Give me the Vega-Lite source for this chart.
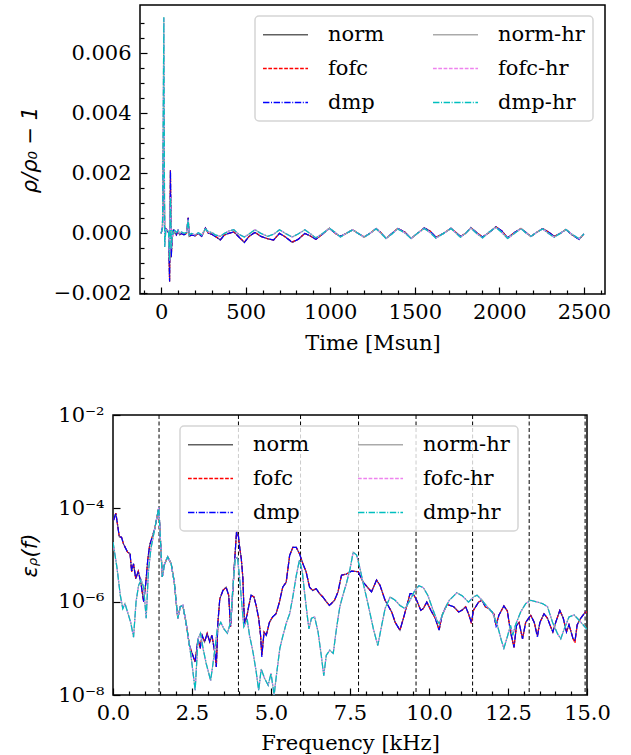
{
  "$schema": "https://vega.github.io/schema/vega-lite/v6.json",
  "padding": {"left": 18, "top": 4, "right": 5, "bottom": 0},
  "spacing": 49,
  "config": {
    "font": "DejaVu Serif",
    "view": {"stroke": "black", "strokeWidth": 1.5},
    "axis": {"domain": false, "grid": false, "labelFont": "DejaVu Serif", "labelFontSize": 21, "labelColor": "black", "titleFont": "DejaVu Serif", "titleFontSize": 21, "titleFontWeight": "normal", "titleColor": "black", "tickColor": "black", "tickWidth": 1.2, "labelOverlap": false, "labelFlush": false},
    "legend": {"strokeWidth": 1.5}
  },
  "resolve": {"scale": {"color": "independent", "strokeDash": "independent", "x": "independent", "y": "independent"}, "legend": {"color": "independent", "strokeDash": "independent"}},
  "vconcat": [
    {
      "bounds": "flush",
      "spacing": 26,
      "resolve": {"scale": {"color": "independent", "strokeDash": "independent", "x": "independent", "y": "independent"}, "legend": {"color": "independent", "strokeDash": "independent"}},
      "hconcat": [
        {
          "width": 1,
          "height": 1,
          "view": {"stroke": null},
          "data": {"values": []},
          "mark": {"type": "point", "opacity": 0}
        },
        {
          "width": 465,
          "height": 289,
          "data": {"values": [
            {"t":0,"norm":0,"fofc":0,"dmp":0,"norm-hr":0,"fofc-hr":0,"dmp-hr":0},
            {"t":8,"norm":0.0002,"fofc":0.0002,"dmp":0.0002,"norm-hr":0.00015,"fofc-hr":0.00015,"dmp-hr":0.00015},
            {"t":16,"norm":0.004,"fofc":0.004,"dmp":0.004,"norm-hr":0.0072,"fofc-hr":0.0072,"dmp-hr":0.0072},
            {"t":21,"norm":-0.0002,"fofc":-0.0002,"dmp":-0.0002,"norm-hr":-0.00045,"fofc-hr":-0.00045,"dmp-hr":-0.00045},
            {"t":28,"norm":0.00015,"fofc":0.00015,"dmp":0.00015,"norm-hr":0.00012,"fofc-hr":0.00012,"dmp-hr":0.00012},
            {"t":36,"norm":0.0001,"fofc":0.0001,"dmp":0.0001,"norm-hr":0.0001,"fofc-hr":0.0001,"dmp-hr":0.0001},
            {"t":44,"norm":0.00002,"fofc":0.00002,"dmp":0.00002,"norm-hr":0.00008,"fofc-hr":0.00008,"dmp-hr":0.00008},
            {"t":50,"norm":-0.0016,"fofc":-0.0016,"dmp":-0.0016,"norm-hr":-0.0009,"fofc-hr":-0.0009,"dmp-hr":-0.0009},
            {"t":55,"norm":0.0021,"fofc":0.0021,"dmp":0.0021,"norm-hr":0.0012,"fofc-hr":0.0012,"dmp-hr":0.0012},
            {"t":60,"norm":-0.0008,"fofc":-0.0008,"dmp":-0.0008,"norm-hr":-0.0005,"fofc-hr":-0.0005,"dmp-hr":-0.0005},
            {"t":66,"norm":0,"fofc":0,"dmp":0,"norm-hr":0.0001,"fofc-hr":0.0001,"dmp-hr":0.0001},
            {"t":72,"norm":0.0001,"fofc":0.0001,"dmp":0.0001,"norm-hr":-0.00005,"fofc-hr":-0.00005,"dmp-hr":-0.00005},
            {"t":80,"norm":0.00003,"fofc":0.00003,"dmp":0.00003,"norm-hr":0.0001,"fofc-hr":0.0001,"dmp-hr":0.0001},
            {"t":90,"norm":-0.00005,"fofc":-0.00005,"dmp":-0.00005,"norm-hr":0.00003,"fofc-hr":0.00003,"dmp-hr":0.00003},
            {"t":100,"norm":0.0001,"fofc":0.0001,"dmp":0.0001,"norm-hr":0.00008,"fofc-hr":0.00008,"dmp-hr":0.00008},
            {"t":110,"norm":-0.00005,"fofc":-0.00005,"dmp":-0.00005,"norm-hr":0,"fofc-hr":0,"dmp-hr":0},
            {"t":120,"norm":0,"fofc":0,"dmp":0,"norm-hr":0.00005,"fofc-hr":0.00005,"dmp-hr":0.00005},
            {"t":135,"norm":-0.00005,"fofc":-0.00005,"dmp":-0.00005,"norm-hr":0,"fofc-hr":0,"dmp-hr":0},
            {"t":150,"norm":0,"fofc":0,"dmp":0,"norm-hr":0.00003,"fofc-hr":0.00003,"dmp-hr":0.00003},
            {"t":160,"norm":0.00052,"fofc":0.00052,"dmp":0.00052,"norm-hr":0.00045,"fofc-hr":0.00045,"dmp-hr":0.00045},
            {"t":166,"norm":-0.0001,"fofc":-0.0001,"dmp":-0.0001,"norm-hr":-0.00005,"fofc-hr":-0.00005,"dmp-hr":-0.00005},
            {"t":180,"norm":-0.00005,"fofc":-0.00005,"dmp":-0.00005,"norm-hr":0,"fofc-hr":0,"dmp-hr":0},
            {"t":200,"norm":-0.00008,"fofc":-0.00008,"dmp":-0.00008,"norm-hr":-0.00005,"fofc-hr":-0.00005,"dmp-hr":-0.00005},
            {"t":220,"norm":0,"fofc":0,"dmp":0,"norm-hr":0.00002,"fofc-hr":0.00002,"dmp-hr":0.00002},
            {"t":240,"norm":-0.0001,"fofc":-0.0001,"dmp":-0.0001,"norm-hr":-0.00005,"fofc-hr":-0.00005,"dmp-hr":-0.00005},
            {"t":262,"norm":0.00018,"fofc":0.00018,"dmp":0.00018,"norm-hr":0.00015,"fofc-hr":0.00015,"dmp-hr":0.00015},
            {"t":280,"norm":0,"fofc":0,"dmp":0,"norm-hr":0.00005,"fofc-hr":0.00005,"dmp-hr":0.00005},
            {"t":300,"norm":-0.00003,"fofc":-0.00003,"dmp":-0.00003,"norm-hr":0.00003,"fofc-hr":0.00003,"dmp-hr":0.00003},
            {"t":320,"norm":-0.0001,"fofc":-0.0001,"dmp":-0.0001,"norm-hr":-0.00005,"fofc-hr":-0.00005,"dmp-hr":-0.00005},
            {"t":350,"norm":-0.00022,"fofc":-0.00021,"dmp":-0.00022,"norm-hr":-0.0001,"fofc-hr":-0.0001,"dmp-hr":-0.0001},
            {"t":375,"norm":-0.00005,"fofc":-0.00005,"dmp":-0.00005,"norm-hr":0,"fofc-hr":0,"dmp-hr":0},
            {"t":400,"norm":0,"fofc":0,"dmp":0,"norm-hr":0.00008,"fofc-hr":0.00008,"dmp-hr":0.00008},
            {"t":430,"norm":0.00005,"fofc":0.00005,"dmp":0.00005,"norm-hr":0.00012,"fofc-hr":0.00012,"dmp-hr":0.00012},
            {"t":460,"norm":-0.00012,"fofc":-0.00012,"dmp":-0.00012,"norm-hr":-0.00003,"fofc-hr":-0.00003,"dmp-hr":-0.00003},
            {"t":492,"norm":-0.0003,"fofc":-0.00029,"dmp":-0.00031,"norm-hr":-0.00012,"fofc-hr":-0.00012,"dmp-hr":-0.00012},
            {"t":520,"norm":-0.0001,"fofc":-0.0001,"dmp":-0.0001,"norm-hr":-0.00002,"fofc-hr":-0.00002,"dmp-hr":-0.00002},
            {"t":555,"norm":0.00003,"fofc":0.00003,"dmp":0.00003,"norm-hr":0.00012,"fofc-hr":0.00012,"dmp-hr":0.00012},
            {"t":590,"norm":-0.0001,"fofc":-0.0001,"dmp":-0.0001,"norm-hr":0,"fofc-hr":0,"dmp-hr":0},
            {"t":630,"norm":-0.00018,"fofc":-0.00018,"dmp":-0.00018,"norm-hr":-0.0001,"fofc-hr":-0.0001,"dmp-hr":-0.0001},
            {"t":665,"norm":-0.00022,"fofc":-0.00022,"dmp":-0.00022,"norm-hr":-0.00003,"fofc-hr":-0.00003,"dmp-hr":-0.00003},
            {"t":700,"norm":0,"fofc":0,"dmp":0,"norm-hr":0.00012,"fofc-hr":0.00012,"dmp-hr":0.00012},
            {"t":735,"norm":-0.00012,"fofc":-0.00012,"dmp":-0.00012,"norm-hr":0,"fofc-hr":0,"dmp-hr":0},
            {"t":775,"norm":-0.0003,"fofc":-0.00028,"dmp":-0.0003,"norm-hr":-0.00012,"fofc-hr":-0.00012,"dmp-hr":-0.00012},
            {"t":810,"norm":-0.0002,"fofc":-0.0002,"dmp":-0.0002,"norm-hr":-0.00002,"fofc-hr":-0.00002,"dmp-hr":-0.00002},
            {"t":850,"norm":0,"fofc":0,"dmp":0,"norm-hr":0.00012,"fofc-hr":0.00012,"dmp-hr":0.00012},
            {"t":880,"norm":-0.00008,"fofc":-0.00008,"dmp":-0.00008,"norm-hr":0,"fofc-hr":0,"dmp-hr":0},
            {"t":915,"norm":-0.0002,"fofc":-0.0002,"dmp":-0.0002,"norm-hr":-0.00015,"fofc-hr":-0.00015,"dmp-hr":-0.00015},
            {"t":955,"norm":-0.00002,"fofc":-0.00002,"dmp":-0.00002,"norm-hr":0,"fofc-hr":0,"dmp-hr":0},
            {"t":995,"norm":0.00017,"fofc":0.00017,"dmp":0.00017,"norm-hr":0.00017,"fofc-hr":0.00017,"dmp-hr":0.00017},
            {"t":1030,"norm":0,"fofc":0,"dmp":0,"norm-hr":0.00003,"fofc-hr":0.00003,"dmp-hr":0.00003},
            {"t":1060,"norm":-0.0001,"fofc":-0.0001,"dmp":-0.0001,"norm-hr":-0.00012,"fofc-hr":-0.00012,"dmp-hr":-0.00012},
            {"t":1095,"norm":0,"fofc":0,"dmp":0,"norm-hr":0,"fofc-hr":0,"dmp-hr":0},
            {"t":1133,"norm":0.00012,"fofc":0.00012,"dmp":0.00012,"norm-hr":0.00012,"fofc-hr":0.00012,"dmp-hr":0.00012},
            {"t":1165,"norm":0,"fofc":0,"dmp":0,"norm-hr":0,"fofc-hr":0,"dmp-hr":0},
            {"t":1200,"norm":-0.00012,"fofc":-0.00012,"dmp":-0.00012,"norm-hr":-0.00013,"fofc-hr":-0.00013,"dmp-hr":-0.00013},
            {"t":1235,"norm":0,"fofc":0,"dmp":0,"norm-hr":0,"fofc-hr":0,"dmp-hr":0},
            {"t":1271,"norm":0.00016,"fofc":0.00016,"dmp":0.00016,"norm-hr":0.00015,"fofc-hr":0.00015,"dmp-hr":0.00015},
            {"t":1300,"norm":0.00002,"fofc":0.00002,"dmp":0.00002,"norm-hr":0,"fofc-hr":0,"dmp-hr":0},
            {"t":1330,"norm":-0.00017,"fofc":-0.00017,"dmp":-0.00017,"norm-hr":-0.00017,"fofc-hr":-0.00017,"dmp-hr":-0.00017},
            {"t":1365,"norm":0,"fofc":0,"dmp":0,"norm-hr":-0.00002,"fofc-hr":-0.00002,"dmp-hr":-0.00002},
            {"t":1399,"norm":0.00016,"fofc":0.00016,"dmp":0.00016,"norm-hr":0.00015,"fofc-hr":0.00015,"dmp-hr":0.00015},
            {"t":1440,"norm":0.00005,"fofc":0.00005,"dmp":0.00005,"norm-hr":0.00002,"fofc-hr":0.00002,"dmp-hr":0.00002},
            {"t":1478,"norm":-0.00017,"fofc":-0.00017,"dmp":-0.00017,"norm-hr":-0.00017,"fofc-hr":-0.00017,"dmp-hr":-0.00017},
            {"t":1515,"norm":0,"fofc":0,"dmp":0,"norm-hr":0,"fofc-hr":0,"dmp-hr":0},
            {"t":1556,"norm":0.00018,"fofc":0.00018,"dmp":0.00018,"norm-hr":0.00016,"fofc-hr":0.00016,"dmp-hr":0.00016},
            {"t":1590,"norm":0.00008,"fofc":0.00008,"dmp":0.00008,"norm-hr":0.00003,"fofc-hr":0.00003,"dmp-hr":0.00003},
            {"t":1625,"norm":-0.00013,"fofc":-0.00013,"dmp":-0.00013,"norm-hr":-0.00016,"fofc-hr":-0.00016,"dmp-hr":-0.00016},
            {"t":1670,"norm":0,"fofc":0,"dmp":0,"norm-hr":0,"fofc-hr":0,"dmp-hr":0},
            {"t":1714,"norm":0.00017,"fofc":0.00017,"dmp":0.00017,"norm-hr":0.00016,"fofc-hr":0.00016,"dmp-hr":0.00016},
            {"t":1740,"norm":0.00005,"fofc":0.00005,"dmp":0.00005,"norm-hr":0.00003,"fofc-hr":0.00003,"dmp-hr":0.00003},
            {"t":1770,"norm":-0.0001,"fofc":-0.0001,"dmp":-0.0001,"norm-hr":-0.00013,"fofc-hr":-0.00013,"dmp-hr":-0.00013},
            {"t":1800,"norm":0,"fofc":0,"dmp":0,"norm-hr":0,"fofc-hr":0,"dmp-hr":0},
            {"t":1832,"norm":0.00019,"fofc":0.00019,"dmp":0.00019,"norm-hr":0.00018,"fofc-hr":0.00018,"dmp-hr":0.00018},
            {"t":1865,"norm":0.00003,"fofc":0.00003,"dmp":0.00003,"norm-hr":0,"fofc-hr":0,"dmp-hr":0},
            {"t":1901,"norm":-0.00012,"fofc":-0.00012,"dmp":-0.00012,"norm-hr":-0.00015,"fofc-hr":-0.00015,"dmp-hr":-0.00015},
            {"t":1940,"norm":0.00003,"fofc":0.00003,"dmp":0.00003,"norm-hr":0.00005,"fofc-hr":0.00005,"dmp-hr":0.00005},
            {"t":1980,"norm":0.00022,"fofc":0.00022,"dmp":0.00022,"norm-hr":0.0002,"fofc-hr":0.0002,"dmp-hr":0.0002},
            {"t":2015,"norm":0.00008,"fofc":0.00008,"dmp":0.00008,"norm-hr":0.00003,"fofc-hr":0.00003,"dmp-hr":0.00003},
            {"t":2049,"norm":-0.00015,"fofc":-0.00015,"dmp":-0.00015,"norm-hr":-0.00017,"fofc-hr":-0.00017,"dmp-hr":-0.00017},
            {"t":2090,"norm":0.00003,"fofc":0.00003,"dmp":0.00003,"norm-hr":0,"fofc-hr":0,"dmp-hr":0},
            {"t":2128,"norm":0.00016,"fofc":0.00016,"dmp":0.00016,"norm-hr":0.00016,"fofc-hr":0.00016,"dmp-hr":0.00016},
            {"t":2160,"norm":0.00002,"fofc":0.00002,"dmp":0.00002,"norm-hr":0,"fofc-hr":0,"dmp-hr":0},
            {"t":2187,"norm":-0.0001,"fofc":-0.0001,"dmp":-0.0001,"norm-hr":-0.0001,"fofc-hr":-0.0001,"dmp-hr":-0.0001},
            {"t":2220,"norm":0.00003,"fofc":0.00003,"dmp":0.00003,"norm-hr":0.00003,"fofc-hr":0.00003,"dmp-hr":0.00003},
            {"t":2256,"norm":0.00016,"fofc":0.00016,"dmp":0.00016,"norm-hr":0.00015,"fofc-hr":0.00015,"dmp-hr":0.00015},
            {"t":2290,"norm":0.00005,"fofc":0.00005,"dmp":0.00005,"norm-hr":0,"fofc-hr":0,"dmp-hr":0},
            {"t":2325,"norm":-0.0001,"fofc":-0.0001,"dmp":-0.0001,"norm-hr":-0.00013,"fofc-hr":-0.00013,"dmp-hr":-0.00013},
            {"t":2360,"norm":0,"fofc":0,"dmp":0,"norm-hr":0,"fofc-hr":0,"dmp-hr":0},
            {"t":2394,"norm":0.00013,"fofc":0.00013,"dmp":0.00013,"norm-hr":0.00013,"fofc-hr":0.00013,"dmp-hr":0.00013},
            {"t":2430,"norm":-0.00005,"fofc":-0.00005,"dmp":-0.00005,"norm-hr":-0.00003,"fofc-hr":-0.00003,"dmp-hr":-0.00003},
            {"t":2472,"norm":-0.0002,"fofc":-0.00019,"dmp":-0.0002,"norm-hr":-0.00018,"fofc-hr":-0.00018,"dmp-hr":-0.00018},
            {"t":2500,"norm":-0.00002,"fofc":-0.00002,"dmp":-0.00002,"norm-hr":-0.00002,"fofc-hr":-0.00002,"dmp-hr":-0.00002}
          ]},
          "transform": [{"fold": ["norm", "fofc", "dmp", "norm-hr", "fofc-hr", "dmp-hr"], "as": ["series", "v"]}],
          "mark": {"type": "line", "strokeWidth": 1.2, "clip": true},
          "encoding": {
            "x": {"field": "t", "type": "quantitative", "scale": {"domain": [-125, 2625], "nice": false, "zero": false},
              "axis": {"title": "Time [Msun]", "values": [-100,0,100,200,300,400,500,600,700,800,900,1000,1100,1200,1300,1400,1500,1600,1700,1800,1900,2000,2100,2200,2300,2400,2500,2600],
                "labelExpr": "datum.value % 500 == 0 ? format(datum.value, 'd') : ''",
                "tickSize": {"condition": {"test": "datum.value % 500 == 0", "value": -7}, "value": -4},
                "labelPadding": 14.5, "minExtent": 29, "maxExtent": 29, "titlePadding": 9}},
            "y": {"field": "v", "type": "quantitative", "scale": {"domain": [-0.00202, 0.00761], "nice": false, "zero": false},
              "axis": {"title": "ρ/ρ₀ − 1", "titleFont": "DejaVu Sans", "titleFontStyle": "italic",
                "values": [-0.002,-0.0015,-0.001,-0.0005,0,0.0005,0.001,0.0015,0.002,0.0025,0.003,0.0035,0.004,0.0045,0.005,0.0055,0.006,0.0065,0.007],
                "labelExpr": "abs(round(datum.value * 10000)) % 20 == 0 ? replace(format(datum.value, '.3f'), '-', '−') : ''",
                "tickSize": {"condition": {"test": "abs(round(datum.value * 10000)) % 20 == 0", "value": -7}, "value": -4},
                "labelPadding": 16, "minExtent": 89, "maxExtent": 89, "titlePadding": 11}},
            "color": {"field": "series", "type": "nominal",
              "scale": {"domain": ["norm", "fofc", "dmp", "norm-hr", "fofc-hr", "dmp-hr"], "range": ["#606060", "#ff0000", "#0000ff", "#aaaaaa", "#ee82ee", "#00bfbf"]},
              "legend": {"title": null, "orient": "none", "legendX": 115, "legendY": 11, "columns": 2, "symbolType": "M-2.33,0H7.67", "symbolSize": 81, "symbolStrokeWidth": 1.4, "labelFont": "DejaVu Serif", "labelFontSize": 21, "labelColor": "black", "labelOffset": 44, "columnPadding": 45, "rowPadding": 12, "padding": 8, "strokeColor": "#d5d5d5", "fillColor": "rgba(255,255,255,0.8)", "cornerRadius": 4}},
            "strokeDash": {"field": "series", "type": "nominal",
              "scale": {"domain": ["norm", "fofc", "dmp", "norm-hr", "fofc-hr", "dmp-hr"], "range": [[1, 0], [3.7, 1.6], [6.4, 1.6, 1, 1.6], [1, 0], [3.7, 1.6], [6.4, 1.6, 1, 1.6]]}}
          }
        }
      ]
    },
    {
      "width": 474,
      "height": 280,
      "encoding": {
        "x": {"field": "f", "type": "quantitative", "scale": {"domain": [0, 15], "nice": false, "zero": false},
          "axis": {"title": "Frequency [kHz]", "values": [0,0.5,1,1.5,2,2.5,3,3.5,4,4.5,5,5.5,6,6.5,7,7.5,8,8.5,9,9.5,10,10.5,11,11.5,12,12.5,13,13.5,14,14.5,15],
            "labelExpr": "round(datum.value * 10) % 25 == 0 ? format(datum.value, '.1f') : ''",
            "tickSize": {"condition": {"test": "round(datum.value * 10) % 25 == 0", "value": -7}, "value": -4},
            "labelPadding": 14.7, "minExtent": 29, "maxExtent": 29, "titlePadding": 8.5}}
      },
      "layer": [
        {
          "data": {"values": [{"f": 1.457}, {"f": 3.97}, {"f": 5.935}, {"f": 7.77}, {"f": 9.59}, {"f": 11.38}, {"f": 13.17}, {"f": 14.94}]},
          "mark": {"type": "rule", "color": "black", "strokeWidth": 1, "strokeDash": [4, 2.5]}
        },
        {
          "data": {"values": [
            {"f":0.02,"norm":5.6e-5,"fofc":5.6e-5,"dmp":5.6e-5},
            {"f":0.09,"norm":7.9e-5,"fofc":7.9e-5,"dmp":7.9e-5},
            {"f":0.2,"norm":2.45e-5,"fofc":2.45e-5,"dmp":2.45e-5},
            {"f":0.27,"norm":2.4e-5,"fofc":2.4e-5,"dmp":2.4e-5},
            {"f":0.33,"norm":1.74e-5,"fofc":1.74e-5,"dmp":1.74e-5},
            {"f":0.46,"norm":1.15e-5,"fofc":1.15e-5,"dmp":1.15e-5},
            {"f":0.54,"norm":1.07e-5,"fofc":1.07e-5,"dmp":1.07e-5},
            {"f":0.59,"norm":4.4e-6,"fofc":4.4e-6,"dmp":4.4e-6},
            {"f":0.65,"norm":6.5e-6,"fofc":6.5e-6,"dmp":6.5e-6},
            {"f":0.72,"norm":3.1e-6,"fofc":3.1e-6,"dmp":3.1e-6},
            {"f":0.8,"norm":4.5e-6,"fofc":4.5e-6,"dmp":4.5e-6},
            {"f":0.88,"norm":2.6e-6,"fofc":2.6e-6,"dmp":2.6e-6},
            {"f":0.97,"norm":1.0e-6,"fofc":1.0e-6,"dmp":1.0e-6},
            {"f":1.04,"norm":2.6e-6,"fofc":2.6e-6,"dmp":2.6e-6},
            {"f":1.1,"norm":7.9e-6,"fofc":7.9e-6,"dmp":7.9e-6},
            {"f":1.16,"norm":1.62e-5,"fofc":1.62e-5,"dmp":1.62e-5},
            {"f":1.32,"norm":3.6e-5,"fofc":3.6e-5,"dmp":3.6e-5},
            {"f":1.45,"norm":1.05e-4,"fofc":1.05e-4,"dmp":1.05e-4},
            {"f":1.56,"norm":3.4e-6,"fofc":3.4e-6,"dmp":3.4e-6},
            {"f":1.63,"norm":6.3e-6,"fofc":6.3e-6,"dmp":6.3e-6},
            {"f":1.73,"norm":9.1e-6,"fofc":9.1e-6,"dmp":9.1e-6},
            {"f":1.84,"norm":6.5e-6,"fofc":6.5e-6,"dmp":6.5e-6},
            {"f":1.94,"norm":2.6e-6,"fofc":2.6e-6,"dmp":2.6e-6},
            {"f":2.05,"norm":4.4e-7,"fofc":4.4e-7,"dmp":4.4e-7},
            {"f":2.13,"norm":7.8e-7,"fofc":7.8e-7,"dmp":7.8e-7},
            {"f":2.21,"norm":8.3e-7,"fofc":8.3e-7,"dmp":8.3e-7},
            {"f":2.31,"norm":3.6e-7,"fofc":3.6e-7,"dmp":3.6e-7},
            {"f":2.42,"norm":1.15e-7,"fofc":1.15e-7,"dmp":1.15e-7},
            {"f":2.49,"norm":8.3e-8,"fofc":8.3e-8,"dmp":8.3e-8},
            {"f":2.6,"norm":5.1e-8,"fofc":5.1e-8,"dmp":5.1e-8},
            {"f":2.69,"norm":1.6e-7,"fofc":1.6e-7,"dmp":1.6e-7},
            {"f":2.76,"norm":1.0e-7,"fofc":1.0e-7,"dmp":1.0e-7},
            {"f":2.82,"norm":1.9e-7,"fofc":1.9e-7,"dmp":1.9e-7},
            {"f":2.9,"norm":1.38e-7,"fofc":1.38e-7,"dmp":1.38e-7},
            {"f":2.98,"norm":2.1e-7,"fofc":2.1e-7,"dmp":2.1e-7},
            {"f":3.06,"norm":1.38e-7,"fofc":1.38e-7,"dmp":1.38e-7},
            {"f":3.13,"norm":1.9e-7,"fofc":1.9e-7,"dmp":1.9e-7},
            {"f":3.22,"norm":8.3e-8,"fofc":8.3e-8,"dmp":8.3e-8},
            {"f":3.27,"norm":4.0e-8,"fofc":4.0e-8,"dmp":4.0e-8},
            {"f":3.32,"norm":3.6e-7,"fofc":3.6e-7,"dmp":3.6e-7},
            {"f":3.38,"norm":1.15e-6,"fofc":1.15e-6,"dmp":1.15e-6},
            {"f":3.48,"norm":1.74e-6,"fofc":1.74e-6,"dmp":1.74e-6},
            {"f":3.58,"norm":2.04e-6,"fofc":2.04e-6,"dmp":2.04e-6},
            {"f":3.66,"norm":1.38e-6,"fofc":1.38e-6,"dmp":1.38e-6},
            {"f":3.72,"norm":2.9e-7,"fofc":2.9e-7,"dmp":2.9e-7},
            {"f":3.78,"norm":1.26e-6,"fofc":1.26e-6,"dmp":1.26e-6},
            {"f":3.84,"norm":6.0e-6,"fofc":6.0e-6,"dmp":6.0e-6},
            {"f":3.91,"norm":3.2e-5,"fofc":3.2e-5,"dmp":3.2e-5},
            {"f":3.97,"norm":2.5e-5,"fofc":2.5e-5,"dmp":2.5e-5},
            {"f":4.0,"norm":1.62e-5,"fofc":1.62e-5,"dmp":1.62e-5},
            {"f":4.06,"norm":8.3e-6,"fofc":8.3e-6,"dmp":8.3e-6},
            {"f":4.11,"norm":3.2e-6,"fofc":3.2e-6,"dmp":3.2e-6},
            {"f":4.16,"norm":3.2e-7,"fofc":3.2e-7,"dmp":3.2e-7},
            {"f":4.24,"norm":5.1e-7,"fofc":5.1e-7,"dmp":5.1e-7},
            {"f":4.3,"norm":8.3e-7,"fofc":8.3e-7,"dmp":8.3e-7},
            {"f":4.37,"norm":1.38e-6,"fofc":1.38e-6,"dmp":1.38e-6},
            {"f":4.46,"norm":1.26e-6,"fofc":1.26e-6,"dmp":1.26e-6},
            {"f":4.53,"norm":8.3e-7,"fofc":8.3e-7,"dmp":8.3e-7},
            {"f":4.61,"norm":4.4e-7,"fofc":4.4e-7,"dmp":4.4e-7},
            {"f":4.67,"norm":1.9e-7,"fofc":1.9e-7,"dmp":1.9e-7},
            {"f":4.71,"norm":7.1e-8,"fofc":7.1e-8,"dmp":6.5e-8},
            {"f":4.78,"norm":2.24e-7,"fofc":2.24e-7,"dmp":2.24e-7},
            {"f":4.85,"norm":1.9e-7,"fofc":1.9e-7,"dmp":1.9e-7},
            {"f":4.95,"norm":3.6e-7,"fofc":3.6e-7,"dmp":3.6e-7},
            {"f":5.05,"norm":4.7e-7,"fofc":4.7e-7,"dmp":4.7e-7},
            {"f":5.16,"norm":5.5e-7,"fofc":5.5e-7,"dmp":5.5e-7},
            {"f":5.27,"norm":1.0e-6,"fofc":1.0e-6,"dmp":1.0e-6},
            {"f":5.37,"norm":2.04e-6,"fofc":2.04e-6,"dmp":2.04e-6},
            {"f":5.48,"norm":2.6e-6,"fofc":2.6e-6,"dmp":2.6e-6},
            {"f":5.59,"norm":9.8e-6,"fofc":9.8e-6,"dmp":9.8e-6},
            {"f":5.69,"norm":1.45e-5,"fofc":1.45e-5,"dmp":1.45e-5},
            {"f":5.8,"norm":1.45e-5,"fofc":1.45e-5,"dmp":1.45e-5},
            {"f":5.9,"norm":1.07e-5,"fofc":1.07e-5,"dmp":1.07e-5},
            {"f":6.01,"norm":6.5e-6,"fofc":6.5e-6,"dmp":6.5e-6},
            {"f":6.11,"norm":4.4e-6,"fofc":4.4e-6,"dmp":4.4e-6},
            {"f":6.22,"norm":2.04e-6,"fofc":2.04e-6,"dmp":2.04e-6},
            {"f":6.32,"norm":1.74e-6,"fofc":1.74e-6,"dmp":1.74e-6},
            {"f":6.43,"norm":1.9e-6,"fofc":1.9e-6,"dmp":1.9e-6},
            {"f":6.54,"norm":1.48e-6,"fofc":1.48e-6,"dmp":1.48e-6},
            {"f":6.64,"norm":1.26e-6,"fofc":1.26e-6,"dmp":1.26e-6},
            {"f":6.75,"norm":1.0e-6,"fofc":1.0e-6,"dmp":1.0e-6},
            {"f":6.85,"norm":8.3e-7,"fofc":8.3e-7,"dmp":8.3e-7},
            {"f":7.01,"norm":1.07e-6,"fofc":1.07e-6,"dmp":1.07e-6},
            {"f":7.12,"norm":1.62e-6,"fofc":1.62e-6,"dmp":1.62e-6},
            {"f":7.23,"norm":3.7e-6,"fofc":3.7e-6,"dmp":3.7e-6},
            {"f":7.38,"norm":3.9e-6,"fofc":3.9e-6,"dmp":3.9e-6},
            {"f":7.55,"norm":4.5e-6,"fofc":4.5e-6,"dmp":4.5e-6},
            {"f":7.76,"norm":4.4e-6,"fofc":4.4e-6,"dmp":4.4e-6},
            {"f":7.92,"norm":2.6e-6,"fofc":2.6e-6,"dmp":2.6e-6},
            {"f":8.18,"norm":1.62e-6,"fofc":1.62e-6,"dmp":1.62e-6},
            {"f":8.34,"norm":2.9e-6,"fofc":2.9e-6,"dmp":2.9e-6},
            {"f":8.45,"norm":2.24e-6,"fofc":2.24e-6,"dmp":2.24e-6},
            {"f":8.61,"norm":1.07e-6,"fofc":1.07e-6,"dmp":1.07e-6},
            {"f":8.82,"norm":6.0e-7,"fofc":6.0e-7,"dmp":6.0e-7},
            {"f":8.93,"norm":3.6e-7,"fofc":3.6e-7,"dmp":3.6e-7},
            {"f":9.08,"norm":2.45e-7,"fofc":2.45e-7,"dmp":2.45e-7},
            {"f":9.19,"norm":4.4e-7,"fofc":4.4e-7,"dmp":4.4e-7},
            {"f":9.29,"norm":7.8e-7,"fofc":7.8e-7,"dmp":7.8e-7},
            {"f":9.4,"norm":1.48e-6,"fofc":1.48e-6,"dmp":1.48e-6},
            {"f":9.5,"norm":1.48e-6,"fofc":1.48e-6,"dmp":1.48e-6},
            {"f":9.61,"norm":1.07e-6,"fofc":1.07e-6,"dmp":1.07e-6},
            {"f":9.74,"norm":6.5e-7,"fofc":6.5e-7,"dmp":6.5e-7},
            {"f":9.82,"norm":7.1e-7,"fofc":7.1e-7,"dmp":7.1e-7},
            {"f":9.93,"norm":9.8e-7,"fofc":9.8e-7,"dmp":9.8e-7},
            {"f":10.07,"norm":6.3e-7,"fofc":6.3e-7,"dmp":6.3e-7},
            {"f":10.2,"norm":4.4e-7,"fofc":4.4e-7,"dmp":4.4e-7},
            {"f":10.32,"norm":2.45e-7,"fofc":2.45e-7,"dmp":2.45e-7},
            {"f":10.41,"norm":5.1e-7,"fofc":5.1e-7,"dmp":5.1e-7},
            {"f":10.57,"norm":8.7e-7,"fofc":8.7e-7,"dmp":8.7e-7},
            {"f":10.78,"norm":7.8e-7,"fofc":7.8e-7,"dmp":7.8e-7},
            {"f":10.94,"norm":6.0e-7,"fofc":6.0e-7,"dmp":6.0e-7},
            {"f":11.05,"norm":6.6e-7,"fofc":6.6e-7,"dmp":6.6e-7},
            {"f":11.16,"norm":7.8e-7,"fofc":7.8e-7,"dmp":7.8e-7},
            {"f":11.25,"norm":5.5e-7,"fofc":5.5e-7,"dmp":5.5e-7},
            {"f":11.34,"norm":3.6e-7,"fofc":3.4e-7,"dmp":3.6e-7},
            {"f":11.41,"norm":6.6e-7,"fofc":6.6e-7,"dmp":6.6e-7},
            {"f":11.57,"norm":9.8e-7,"fofc":9.8e-7,"dmp":9.8e-7},
            {"f":11.68,"norm":1.07e-6,"fofc":1.07e-6,"dmp":1.07e-6},
            {"f":11.78,"norm":7.8e-7,"fofc":7.8e-7,"dmp":7.8e-7},
            {"f":11.9,"norm":7.1e-7,"fofc":7.1e-7,"dmp":7.1e-7},
            {"f":12.05,"norm":5.5e-7,"fofc":5.5e-7,"dmp":5.5e-7},
            {"f":12.12,"norm":3.2e-7,"fofc":3.2e-7,"dmp":2.8e-7},
            {"f":12.21,"norm":5.1e-7,"fofc":5.1e-7,"dmp":5.1e-7},
            {"f":12.37,"norm":8.1e-7,"fofc":8.1e-7,"dmp":8.1e-7},
            {"f":12.48,"norm":6.3e-7,"fofc":6.3e-7,"dmp":6.3e-7},
            {"f":12.58,"norm":2.24e-7,"fofc":2.24e-7,"dmp":2.24e-7},
            {"f":12.69,"norm":1.05e-7,"fofc":1.05e-7,"dmp":1.05e-7},
            {"f":12.77,"norm":3.1e-7,"fofc":3.1e-7,"dmp":3.1e-7},
            {"f":12.85,"norm":3.6e-7,"fofc":3.6e-7,"dmp":3.6e-7},
            {"f":12.96,"norm":1.6e-7,"fofc":1.6e-7,"dmp":1.6e-7},
            {"f":13.06,"norm":3.6e-7,"fofc":3.6e-7,"dmp":3.6e-7},
            {"f":13.22,"norm":5.1e-7,"fofc":5.1e-7,"dmp":5.1e-7},
            {"f":13.33,"norm":3.6e-7,"fofc":3.6e-7,"dmp":3.6e-7},
            {"f":13.43,"norm":1.9e-7,"fofc":1.9e-7,"dmp":1.7e-7},
            {"f":13.51,"norm":3.6e-7,"fofc":3.6e-7,"dmp":3.6e-7},
            {"f":13.64,"norm":5.5e-7,"fofc":5.5e-7,"dmp":5.5e-7},
            {"f":13.75,"norm":4.4e-7,"fofc":4.4e-7,"dmp":4.4e-7},
            {"f":13.85,"norm":2.9e-7,"fofc":2.9e-7,"dmp":2.9e-7},
            {"f":13.92,"norm":2.24e-7,"fofc":2.24e-7,"dmp":2.24e-7},
            {"f":14.01,"norm":3.6e-7,"fofc":3.6e-7,"dmp":3.6e-7},
            {"f":14.14,"norm":6.5e-7,"fofc":6.5e-7,"dmp":6.5e-7},
            {"f":14.25,"norm":4.4e-7,"fofc":4.4e-7,"dmp":4.4e-7},
            {"f":14.35,"norm":2.24e-7,"fofc":2.24e-7,"dmp":2.24e-7},
            {"f":14.43,"norm":3.2e-7,"fofc":3.2e-7,"dmp":3.2e-7},
            {"f":14.56,"norm":1.6e-7,"fofc":1.6e-7,"dmp":1.6e-7},
            {"f":14.62,"norm":1.48e-7,"fofc":1.3e-7,"dmp":1.45e-7},
            {"f":14.69,"norm":3.2e-7,"fofc":3.2e-7,"dmp":3.2e-7},
            {"f":14.8,"norm":4.4e-7,"fofc":4.4e-7,"dmp":4.4e-7},
            {"f":14.94,"norm":5.9e-7,"fofc":5.9e-7,"dmp":5.9e-7},
            {"f":15.0,"norm":6.0e-7,"fofc":6.0e-7,"dmp":6.0e-7},
            {"f":0.0,"norm-hr":1.9e-5,"fofc-hr":1.9e-5,"dmp-hr":1.9e-5},
            {"f":0.13,"norm-hr":5.1e-6,"fofc-hr":5.1e-6,"dmp-hr":5.1e-6},
            {"f":0.23,"norm-hr":1.38e-6,"fofc-hr":1.38e-6,"dmp-hr":1.38e-6},
            {"f":0.31,"norm-hr":7.1e-7,"fofc-hr":7.1e-7,"dmp-hr":7.1e-7},
            {"f":0.38,"norm-hr":9.1e-7,"fofc-hr":9.1e-7,"dmp-hr":9.1e-7},
            {"f":0.46,"norm-hr":6.0e-7,"fofc-hr":6.0e-7,"dmp-hr":6.0e-7},
            {"f":0.56,"norm-hr":3.6e-7,"fofc-hr":3.6e-7,"dmp-hr":3.6e-7},
            {"f":0.65,"norm-hr":1.74e-7,"fofc-hr":1.74e-7,"dmp-hr":1.74e-7},
            {"f":0.73,"norm-hr":1.0e-6,"fofc-hr":1.0e-6,"dmp-hr":1.0e-6},
            {"f":0.81,"norm-hr":2.24e-6,"fofc-hr":2.24e-6,"dmp-hr":2.24e-6},
            {"f":0.89,"norm-hr":2.9e-6,"fofc-hr":2.9e-6,"dmp-hr":2.9e-6},
            {"f":0.97,"norm-hr":2.04e-6,"fofc-hr":2.04e-6,"dmp-hr":2.04e-6},
            {"f":1.05,"norm-hr":4.4e-7,"fofc-hr":4.4e-7,"dmp-hr":4.4e-7},
            {"f":1.12,"norm-hr":4.4e-6,"fofc-hr":4.4e-6,"dmp-hr":4.4e-6},
            {"f":1.2,"norm-hr":1.38e-5,"fofc-hr":1.38e-5,"dmp-hr":1.38e-5},
            {"f":1.32,"norm-hr":3.6e-5,"fofc-hr":3.6e-5,"dmp-hr":3.6e-5},
            {"f":1.45,"norm-hr":1.05e-4,"fofc-hr":1.05e-4,"dmp-hr":1.05e-4},
            {"f":1.56,"norm-hr":3.4e-6,"fofc-hr":3.4e-6,"dmp-hr":3.4e-6},
            {"f":1.63,"norm-hr":6.3e-6,"fofc-hr":6.3e-6,"dmp-hr":6.3e-6},
            {"f":1.73,"norm-hr":9.1e-6,"fofc-hr":9.1e-6,"dmp-hr":9.1e-6},
            {"f":1.84,"norm-hr":6.5e-6,"fofc-hr":6.5e-6,"dmp-hr":6.5e-6},
            {"f":1.94,"norm-hr":2.6e-6,"fofc-hr":2.6e-6,"dmp-hr":2.6e-6},
            {"f":2.05,"norm-hr":4.4e-7,"fofc-hr":4.4e-7,"dmp-hr":4.4e-7},
            {"f":2.13,"norm-hr":7.8e-7,"fofc-hr":7.8e-7,"dmp-hr":7.8e-7},
            {"f":2.21,"norm-hr":8.3e-7,"fofc-hr":8.3e-7,"dmp-hr":8.3e-7},
            {"f":2.31,"norm-hr":3.6e-7,"fofc-hr":3.6e-7,"dmp-hr":3.6e-7},
            {"f":2.42,"norm-hr":1.15e-7,"fofc-hr":1.15e-7,"dmp-hr":1.15e-7},
            {"f":2.48,"norm-hr":6.0e-8,"fofc-hr":6.0e-8,"dmp-hr":6.0e-8},
            {"f":2.6,"norm-hr":1.26e-8,"fofc-hr":1.26e-8,"dmp-hr":1.26e-8},
            {"f":2.69,"norm-hr":1.6e-7,"fofc-hr":1.6e-7,"dmp-hr":1.6e-7},
            {"f":2.77,"norm-hr":2.1e-7,"fofc-hr":2.1e-7,"dmp-hr":2.1e-7},
            {"f":2.85,"norm-hr":1.0e-7,"fofc-hr":1.0e-7,"dmp-hr":1.0e-7},
            {"f":2.95,"norm-hr":4.7e-8,"fofc-hr":4.7e-8,"dmp-hr":4.7e-8},
            {"f":3.09,"norm-hr":2.04e-8,"fofc-hr":2.04e-8,"dmp-hr":2.04e-8},
            {"f":3.2,"norm-hr":7.1e-8,"fofc-hr":7.1e-8,"dmp-hr":7.1e-8},
            {"f":3.3,"norm-hr":2.6e-7,"fofc-hr":2.6e-7,"dmp-hr":2.6e-7},
            {"f":3.41,"norm-hr":3.6e-7,"fofc-hr":3.6e-7,"dmp-hr":3.6e-7},
            {"f":3.51,"norm-hr":2.6e-7,"fofc-hr":2.6e-7,"dmp-hr":2.6e-7},
            {"f":3.62,"norm-hr":2.1e-7,"fofc-hr":2.1e-7,"dmp-hr":2.1e-7},
            {"f":3.72,"norm-hr":3.6e-7,"fofc-hr":3.6e-7,"dmp-hr":3.6e-7},
            {"f":3.79,"norm-hr":1.9e-6,"fofc-hr":1.9e-6,"dmp-hr":1.9e-6},
            {"f":3.87,"norm-hr":8.3e-6,"fofc-hr":8.3e-6,"dmp-hr":8.3e-6},
            {"f":3.94,"norm-hr":8.9e-6,"fofc-hr":8.9e-6,"dmp-hr":8.9e-6},
            {"f":4.0,"norm-hr":3.6e-6,"fofc-hr":3.6e-6,"dmp-hr":3.6e-6},
            {"f":4.08,"norm-hr":8.3e-7,"fofc-hr":8.3e-7,"dmp-hr":8.3e-7},
            {"f":4.14,"norm-hr":2.9e-7,"fofc-hr":2.9e-7,"dmp-hr":2.9e-7},
            {"f":4.2,"norm-hr":3.5e-7,"fofc-hr":3.5e-7,"dmp-hr":3.5e-7},
            {"f":4.25,"norm-hr":4.0e-7,"fofc-hr":4.0e-7,"dmp-hr":4.0e-7},
            {"f":4.32,"norm-hr":1.9e-7,"fofc-hr":1.9e-7,"dmp-hr":1.9e-7},
            {"f":4.43,"norm-hr":8.3e-8,"fofc-hr":8.3e-8,"dmp-hr":8.3e-8},
            {"f":4.53,"norm-hr":3.2e-8,"fofc-hr":3.2e-8,"dmp-hr":3.2e-8},
            {"f":4.61,"norm-hr":1.26e-8,"fofc-hr":1.26e-8,"dmp-hr":1.26e-8},
            {"f":4.69,"norm-hr":3.6e-8,"fofc-hr":3.6e-8,"dmp-hr":3.6e-8},
            {"f":4.8,"norm-hr":2.24e-8,"fofc-hr":2.24e-8,"dmp-hr":2.24e-8},
            {"f":4.91,"norm-hr":1.62e-8,"fofc-hr":1.62e-8,"dmp-hr":1.62e-8},
            {"f":5.0,"norm-hr":2.9e-8,"fofc-hr":2.9e-8,"dmp-hr":2.9e-8},
            {"f":5.1,"norm-hr":1.0e-8,"fofc-hr":1.0e-8,"dmp-hr":1.0e-8},
            {"f":5.17,"norm-hr":2.6e-8,"fofc-hr":2.6e-8,"dmp-hr":2.6e-8},
            {"f":5.28,"norm-hr":1.0e-7,"fofc-hr":1.0e-7,"dmp-hr":1.0e-7},
            {"f":5.38,"norm-hr":1.9e-7,"fofc-hr":1.9e-7,"dmp-hr":1.9e-7},
            {"f":5.49,"norm-hr":3.6e-7,"fofc-hr":3.6e-7,"dmp-hr":3.6e-7},
            {"f":5.59,"norm-hr":5.5e-7,"fofc-hr":5.5e-7,"dmp-hr":5.5e-7},
            {"f":5.69,"norm-hr":1.26e-6,"fofc-hr":1.26e-6,"dmp-hr":1.26e-6},
            {"f":5.8,"norm-hr":3.6e-6,"fofc-hr":3.6e-6,"dmp-hr":3.6e-6},
            {"f":5.9,"norm-hr":7.8e-6,"fofc-hr":7.8e-6,"dmp-hr":7.8e-6},
            {"f":5.99,"norm-hr":4.4e-6,"fofc-hr":4.4e-6,"dmp-hr":4.4e-6},
            {"f":6.06,"norm-hr":1.62e-6,"fofc-hr":1.62e-6,"dmp-hr":1.62e-6},
            {"f":6.14,"norm-hr":5.5e-7,"fofc-hr":5.5e-7,"dmp-hr":5.5e-7},
            {"f":6.2,"norm-hr":2.6e-7,"fofc-hr":2.6e-7,"dmp-hr":2.6e-7},
            {"f":6.28,"norm-hr":4.4e-7,"fofc-hr":4.4e-7,"dmp-hr":4.4e-7},
            {"f":6.38,"norm-hr":4.7e-7,"fofc-hr":4.7e-7,"dmp-hr":4.7e-7},
            {"f":6.49,"norm-hr":2.24e-7,"fofc-hr":2.24e-7,"dmp-hr":2.24e-7},
            {"f":6.59,"norm-hr":7.1e-8,"fofc-hr":7.1e-8,"dmp-hr":7.1e-8},
            {"f":6.67,"norm-hr":2.6e-8,"fofc-hr":2.6e-8,"dmp-hr":2.6e-8},
            {"f":6.75,"norm-hr":7.1e-8,"fofc-hr":7.1e-8,"dmp-hr":7.1e-8},
            {"f":6.86,"norm-hr":9.1e-8,"fofc-hr":9.1e-8,"dmp-hr":9.1e-8},
            {"f":6.97,"norm-hr":7.8e-8,"fofc-hr":7.8e-8,"dmp-hr":7.8e-8},
            {"f":7.07,"norm-hr":2.6e-7,"fofc-hr":2.6e-7,"dmp-hr":2.6e-7},
            {"f":7.18,"norm-hr":7.9e-7,"fofc-hr":7.9e-7,"dmp-hr":7.9e-7},
            {"f":7.28,"norm-hr":1.41e-6,"fofc-hr":1.41e-6,"dmp-hr":1.41e-6},
            {"f":7.39,"norm-hr":2.5e-6,"fofc-hr":2.5e-6,"dmp-hr":2.5e-6},
            {"f":7.5,"norm-hr":5.0e-6,"fofc-hr":5.0e-6,"dmp-hr":5.0e-6},
            {"f":7.6,"norm-hr":1.15e-5,"fofc-hr":1.15e-5,"dmp-hr":1.15e-5},
            {"f":7.71,"norm-hr":1.0e-5,"fofc-hr":1.0e-5,"dmp-hr":1.0e-5},
            {"f":7.82,"norm-hr":5.0e-6,"fofc-hr":5.0e-6,"dmp-hr":5.0e-6},
            {"f":7.92,"norm-hr":2.45e-6,"fofc-hr":2.45e-6,"dmp-hr":2.45e-6},
            {"f":8.08,"norm-hr":8.3e-7,"fofc-hr":8.3e-7,"dmp-hr":8.3e-7},
            {"f":8.24,"norm-hr":2.6e-7,"fofc-hr":2.6e-7,"dmp-hr":2.6e-7},
            {"f":8.38,"norm-hr":1.15e-7,"fofc-hr":1.15e-7,"dmp-hr":1.15e-7},
            {"f":8.48,"norm-hr":2.6e-7,"fofc-hr":2.6e-7,"dmp-hr":2.6e-7},
            {"f":8.61,"norm-hr":7.1e-7,"fofc-hr":7.1e-7,"dmp-hr":7.1e-7},
            {"f":8.77,"norm-hr":1.26e-6,"fofc-hr":1.26e-6,"dmp-hr":1.26e-6},
            {"f":8.93,"norm-hr":1.07e-6,"fofc-hr":1.07e-6,"dmp-hr":1.07e-6},
            {"f":9.08,"norm-hr":8.3e-7,"fofc-hr":8.3e-7,"dmp-hr":8.3e-7},
            {"f":9.24,"norm-hr":7.1e-7,"fofc-hr":7.1e-7,"dmp-hr":7.1e-7},
            {"f":9.4,"norm-hr":1.07e-6,"fofc-hr":1.07e-6,"dmp-hr":1.07e-6},
            {"f":9.55,"norm-hr":1.74e-6,"fofc-hr":1.74e-6,"dmp-hr":1.74e-6},
            {"f":9.68,"norm-hr":2.19e-6,"fofc-hr":2.19e-6,"dmp-hr":2.19e-6},
            {"f":9.82,"norm-hr":2.0e-6,"fofc-hr":2.0e-6,"dmp-hr":2.0e-6},
            {"f":9.96,"norm-hr":1.38e-6,"fofc-hr":1.38e-6,"dmp-hr":1.38e-6},
            {"f":10.09,"norm-hr":7.8e-7,"fofc-hr":7.8e-7,"dmp-hr":7.8e-7},
            {"f":10.25,"norm-hr":4.0e-7,"fofc-hr":4.0e-7,"dmp-hr":4.0e-7},
            {"f":10.32,"norm-hr":3.4e-7,"fofc-hr":3.4e-7,"dmp-hr":3.4e-7},
            {"f":10.46,"norm-hr":6.0e-7,"fofc-hr":6.0e-7,"dmp-hr":6.0e-7},
            {"f":10.64,"norm-hr":1.07e-6,"fofc-hr":1.07e-6,"dmp-hr":1.07e-6},
            {"f":10.88,"norm-hr":1.55e-6,"fofc-hr":1.55e-6,"dmp-hr":1.55e-6},
            {"f":11.06,"norm-hr":1.32e-6,"fofc-hr":1.32e-6,"dmp-hr":1.32e-6},
            {"f":11.25,"norm-hr":9.8e-7,"fofc-hr":9.8e-7,"dmp-hr":9.8e-7},
            {"f":11.41,"norm-hr":1.26e-6,"fofc-hr":1.26e-6,"dmp-hr":1.26e-6},
            {"f":11.52,"norm-hr":1.38e-6,"fofc-hr":1.38e-6,"dmp-hr":1.38e-6},
            {"f":11.68,"norm-hr":1.07e-6,"fofc-hr":1.07e-6,"dmp-hr":1.07e-6},
            {"f":11.84,"norm-hr":7.8e-7,"fofc-hr":7.8e-7,"dmp-hr":7.8e-7},
            {"f":12.0,"norm-hr":6.0e-7,"fofc-hr":6.0e-7,"dmp-hr":6.0e-7},
            {"f":12.16,"norm-hr":3.2e-7,"fofc-hr":3.2e-7,"dmp-hr":3.2e-7},
            {"f":12.29,"norm-hr":1.48e-7,"fofc-hr":1.48e-7,"dmp-hr":1.48e-7},
            {"f":12.37,"norm-hr":1.0e-7,"fofc-hr":1.0e-7,"dmp-hr":1.0e-7},
            {"f":12.48,"norm-hr":1.78e-7,"fofc-hr":1.78e-7,"dmp-hr":1.78e-7},
            {"f":12.58,"norm-hr":3.1e-7,"fofc-hr":3.1e-7,"dmp-hr":3.1e-7},
            {"f":12.65,"norm-hr":1.9e-7,"fofc-hr":1.9e-7,"dmp-hr":1.9e-7},
            {"f":12.74,"norm-hr":3.2e-7,"fofc-hr":3.2e-7,"dmp-hr":3.2e-7},
            {"f":12.9,"norm-hr":6.0e-7,"fofc-hr":6.0e-7,"dmp-hr":6.0e-7},
            {"f":13.06,"norm-hr":9.1e-7,"fofc-hr":9.1e-7,"dmp-hr":9.1e-7},
            {"f":13.22,"norm-hr":1.07e-6,"fofc-hr":1.07e-6,"dmp-hr":1.07e-6},
            {"f":13.38,"norm-hr":1.0e-6,"fofc-hr":1.0e-6,"dmp-hr":1.0e-6},
            {"f":13.59,"norm-hr":9.1e-7,"fofc-hr":9.1e-7,"dmp-hr":9.1e-7},
            {"f":13.75,"norm-hr":7.8e-7,"fofc-hr":7.8e-7,"dmp-hr":7.8e-7},
            {"f":13.91,"norm-hr":3.6e-7,"fofc-hr":3.6e-7,"dmp-hr":3.6e-7},
            {"f":14.07,"norm-hr":2.04e-7,"fofc-hr":2.04e-7,"dmp-hr":2.04e-7},
            {"f":14.17,"norm-hr":1.6e-7,"fofc-hr":1.6e-7,"dmp-hr":1.6e-7},
            {"f":14.27,"norm-hr":2.5e-7,"fofc-hr":2.5e-7,"dmp-hr":2.5e-7},
            {"f":14.43,"norm-hr":4.7e-7,"fofc-hr":4.7e-7,"dmp-hr":4.7e-7},
            {"f":14.59,"norm-hr":5.2e-7,"fofc-hr":5.2e-7,"dmp-hr":5.2e-7},
            {"f":14.75,"norm-hr":4.0e-7,"fofc-hr":4.0e-7,"dmp-hr":4.0e-7},
            {"f":14.96,"norm-hr":2.75e-7,"fofc-hr":2.75e-7,"dmp-hr":2.75e-7},
            {"f":15.0,"norm-hr":2.6e-7,"fofc-hr":2.6e-7,"dmp-hr":2.6e-7}
          ]},
          "transform": [
            {"fold": ["norm", "fofc", "dmp", "norm-hr", "fofc-hr", "dmp-hr"], "as": ["series", "v"]},
            {"filter": "isValid(datum.v)"}
          ],
          "mark": {"type": "line", "strokeWidth": 1.2, "clip": true},
          "encoding": {
            "y": {"field": "v", "type": "quantitative", "scale": {"type": "log", "domain": [1e-8, 1e-2], "nice": false},
              "axis": {"title": "εᵨ(f)", "titleFont": "DejaVu Sans", "titleFontStyle": "italic",
                "values": [1e-8, 1e-6, 1e-4, 1e-2],
                "labelExpr": "datum.value >= 0.005 ? '10⁻²' : datum.value >= 0.00005 ? '10⁻⁴' : datum.value >= 5e-7 ? '10⁻⁶' : '10⁻⁸'",
                "tickSize": -7, "labelPadding": 16, "minExtent": 59, "maxExtent": 59, "titlePadding": 14}},
            "color": {"field": "series", "type": "nominal",
              "scale": {"domain": ["norm", "fofc", "dmp", "norm-hr", "fofc-hr", "dmp-hr"], "range": ["#606060", "#ff0000", "#0000ff", "#aaaaaa", "#ee82ee", "#00bfbf"]},
              "legend": {"title": null, "orient": "none", "legendX": 67, "legendY": 11, "columns": 2, "symbolType": "M-2.33,0H7.67", "symbolSize": 81, "symbolStrokeWidth": 1.4, "labelFont": "DejaVu Serif", "labelFontSize": 21, "labelColor": "black", "labelOffset": 44, "columnPadding": 45, "rowPadding": 12, "padding": 8, "strokeColor": "#d5d5d5", "fillColor": "rgba(255,255,255,0.8)", "cornerRadius": 4}},
            "strokeDash": {"field": "series", "type": "nominal",
              "scale": {"domain": ["norm", "fofc", "dmp", "norm-hr", "fofc-hr", "dmp-hr"], "range": [[1, 0], [3.7, 1.6], [6.4, 1.6, 1, 1.6], [1, 0], [3.7, 1.6], [6.4, 1.6, 1, 1.6]]}}
          }
        }
      ]
    }
  ]
}
